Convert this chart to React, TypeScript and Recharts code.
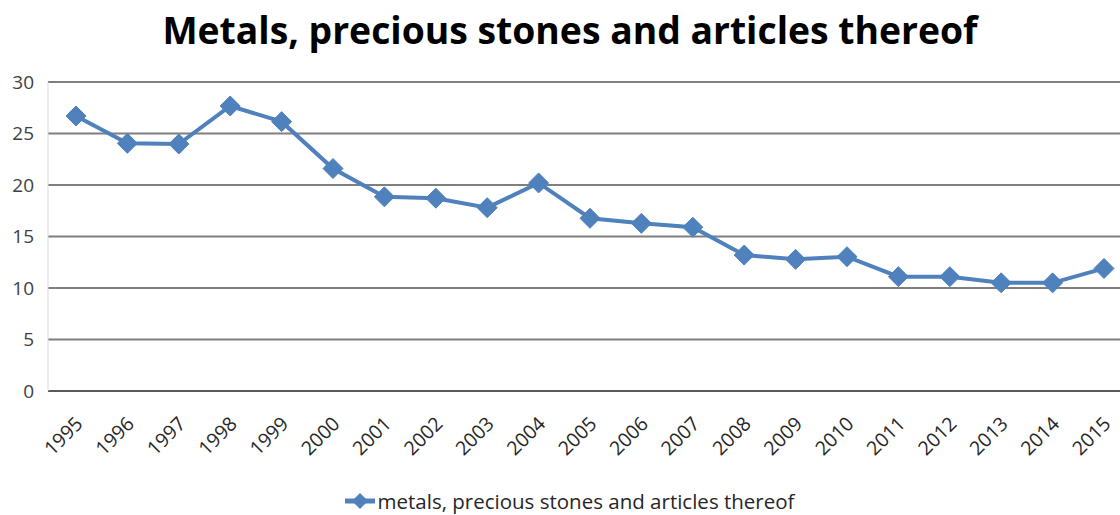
import React from 'react';
import { LineChart, Line, XAxis, YAxis, CartesianGrid, Legend } from 'recharts';

const years = ['1995','1996','1997','1998','1999','2000','2001','2002','2003','2004','2005','2006','2007','2008','2009','2010','2011','2012','2013','2014','2015'];
const values = [26.7, 24.05, 23.98, 27.67, 26.15, 21.6, 18.85, 18.72, 17.8, 20.2, 16.77, 16.28, 15.9, 13.2, 12.78, 13.04, 11.1, 11.1, 10.5, 10.5, 11.9];
const yTicks = [0, 5, 10, 15, 20, 25, 30];
const seriesName = 'metals, precious stones and articles thereof';
const title = 'Metals, precious stones and articles thereof';

const data = years.map((y, i) => ({ year: y, value: values[i] }));

const FONT = '"Open Sans", Lato, sans-serif';
const COLOR = '#4F81BD';

const Diamond = (props: any) => {
  const { cx, cy } = props;
  if (cx == null || cy == null) return null;
  const r = 10;
  return <path d={`M${cx},${cy - r}L${cx + r},${cy}L${cx},${cy + r}L${cx - r},${cy}Z`} fill={COLOR} stroke={COLOR} strokeWidth={1} />;
};

const XTick = (props: any) => {
  const { x, y, payload } = props;
  return (
    <text x={x + 8} y={y + 26} transform={`rotate(-45 ${x + 8} ${y + 26})`} textAnchor="end" fontFamily={FONT} fontSize={19.5} fill="#262626">
      {payload.value}
    </text>
  );
};

const LegendContent = () => (
  <div style={{ display: 'flex', justifyContent: 'center', alignItems: 'center', height: 40, paddingTop: 12, boxSizing: 'border-box', fontFamily: FONT, fontSize: 20.5, color: '#262626', marginLeft: 8 }}>
    <svg width={32} height={20} style={{ marginRight: 2 }}>
      <line x1={1} y1={10} x2={31} y2={10} stroke={COLOR} strokeWidth={5} />
      <path d="M16,2L24,10L16,18L8,10Z" fill={COLOR} />
    </svg>
    <span>{seriesName}</span>
  </div>
);

export default function App() {
  return (
    <div style={{ position: 'fixed', left: 0, top: 0, width: 1120, height: 515, overflow: 'hidden', background: '#fff' }}>
      <div style={{ position: 'absolute', left: 0, top: 4, width: 1140, textAlign: 'center', fontFamily: FONT, fontWeight: 700, fontSize: 37.3, color: '#000' }}>
        {title}
      </div>
      <LineChart width={1140} height={515} data={data} margin={{ top: 82, right: 10, left: 0, bottom: 0 }}>
        <CartesianGrid vertical={false} stroke="#7f7f7f" strokeWidth={2} />
        <XAxis dataKey="year" height={84} padding={{ left: 28, right: 26 }} tick={<XTick />} tickLine={false} axisLine={{ stroke: '#595959', strokeWidth: 2 }} interval={0} />
        <YAxis width={48} domain={[0, 30]} ticks={yTicks} tickLine={false} axisLine={{ stroke: '#d9d9d9', strokeWidth: 1 }} tick={{ fontFamily: FONT, fontSize: 19, fill: '#404040' }} tickMargin={8} />
        <Legend verticalAlign="bottom" height={40} content={<LegendContent />} />
        <Line type="linear" dataKey="value" name={seriesName} stroke={COLOR} strokeWidth={4} dot={<Diamond />} activeDot={false} isAnimationActive={false} />
      </LineChart>
    </div>
  );
}
